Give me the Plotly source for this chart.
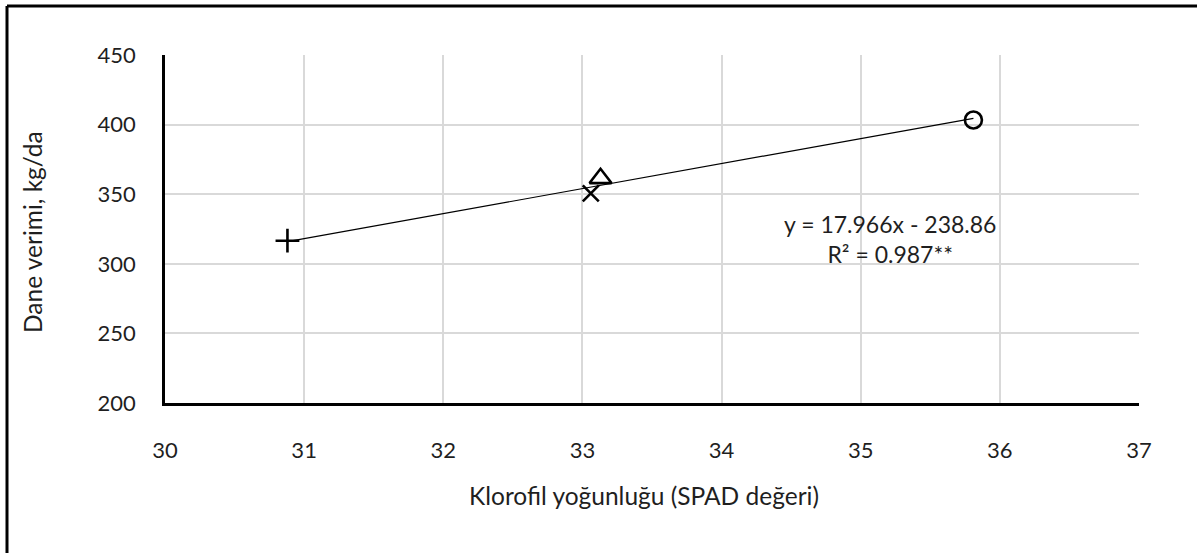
import plotly.graph_objects as go

# SPAD chlorophyll readings and grain yield for the four treatments
spad = [30.88, 33.06, 33.13, 35.81]
yield_kg = [316.6, 350.6, 361.4, 403.3]
symbols = ["cross-thin-open", "x-thin-open", "triangle-up-open", "circle-open"]
sizes = [17, 16, 19, 17]

# Linear fit reported on the chart
slope = 17.966
intercept = -238.86
r2_label = "0.987**"

x_ticks = [30, 31, 32, 33, 34, 35, 36, 37]
y_ticks = [200, 250, 300, 350, 400, 450]

W, H = 1197, 553
L, R, T, B = 165, 58, 55, 150
pw, ph = W - L - R, H - T - B


def px_to_paper(px, py):
    return (px - L) / pw, (H - B - py) / ph


fig = go.Figure()

x_line = [min(spad), max(spad)]
fig.add_trace(go.Scatter(
    x=x_line, y=[slope * v + intercept for v in x_line],
    mode="lines", line=dict(color="black", width=1.2),
    hoverinfo="skip", showlegend=False,
))

for xv, yv, sym, sz in zip(spad, yield_kg, symbols, sizes):
    fig.add_trace(go.Scatter(
        x=[xv], y=[yv], mode="markers",
        marker=dict(symbol=sym, size=sz, color="black",
                    line=dict(color="black", width=2.6)),
        showlegend=False,
    ))

font = "Lato, 'Open Sans', sans-serif"
ink = "#1f1f1f"

fig.add_annotation(
    x=35.21, y=318, xref="x", yref="y",
    text=f"y = {slope}x - {abs(intercept)}<br>R² = {r2_label}",
    showarrow=False, align="center",
    font=dict(family=font, size=23, color=ink),
)

# axis titles
tx, ty = px_to_paper(644, 495)
fig.add_annotation(x=tx, y=ty, xref="paper", yref="paper",
                   text="Klorofil yoğunluğu (SPAD değeri)", showarrow=False,
                   xanchor="center", yanchor="middle",
                   font=dict(family=font, size=24.5, color=ink))
tx, ty = px_to_paper(32, 232)
fig.add_annotation(x=tx, y=ty, xref="paper", yref="paper",
                   text="Dane verimi, kg/da", showarrow=False, textangle=-90,
                   xanchor="center", yanchor="middle",
                   font=dict(family=font, size=24.5, color=ink))

# outer chart frame (left and top edges)
x0, y0 = px_to_paper(7, 6)
x1, y1 = px_to_paper(W + 10, H + 10)
fig.add_shape(type="line", xref="paper", yref="paper",
              x0=x0, y0=y0, x1=x1, y1=y0, line=dict(color="black", width=3))
fig.add_shape(type="line", xref="paper", yref="paper",
              x0=x0, y0=y0, x1=x0, y1=y1, line=dict(color="black", width=3))

fig.update_layout(
    width=W, height=H,
    margin=dict(l=L, r=R, t=T, b=B),
    plot_bgcolor="white", paper_bgcolor="white",
    font=dict(family=font, size=22, color=ink),
    xaxis=dict(
        range=[30, 37], tickvals=x_ticks, showgrid=True,
        gridcolor="#d9d9d9", gridwidth=2,
        showline=True, linecolor="black", linewidth=2.5,
        zeroline=False, ticks="", ticklen=0, ticklabelstandoff=26,
        tickfont=dict(size=22),
    ),
    yaxis=dict(
        range=[200, 450], tickvals=y_ticks, showgrid=True,
        gridcolor="#d9d9d9", gridwidth=2,
        showline=True, linecolor="black", linewidth=2.5,
        zeroline=False, ticks="", ticklen=0, ticklabelstandoff=22,
        tickfont=dict(size=22),
    ),
)

fig.write_html("out.html")
